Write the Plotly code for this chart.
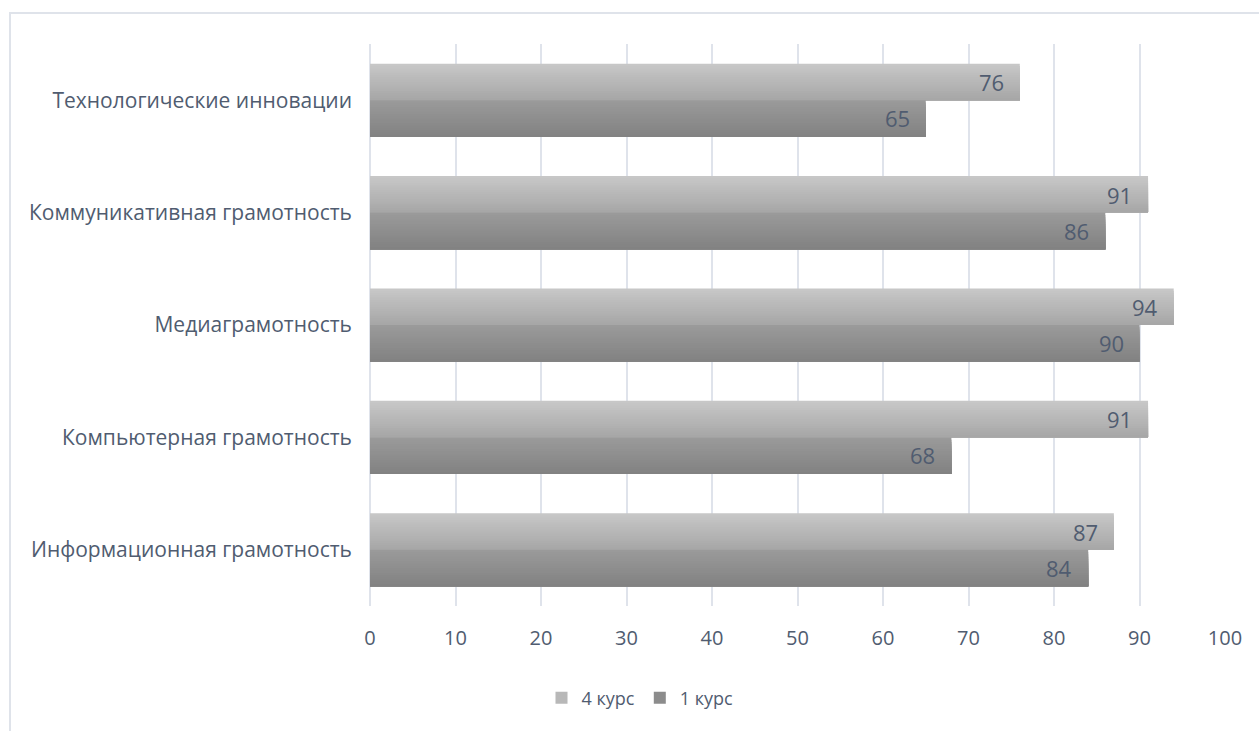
import plotly.graph_objects as go

# Data
categories = [
    "Информационная грамотность",
    "Компьютерная грамотность",
    "Медиаграмотность",
    "Коммуникативная грамотность",
    "Технологические инновации",
]
series_names = ["4 курс", "1 курс"]
course4 = [87, 91, 94, 91, 76]
course1 = [84, 68, 90, 86, 65]
x_ticks = [0, 10, 20, 30, 40, 50, 60, 70, 80, 90, 100]

TEXT = "#505c70"
FONT = "Open Sans"
BAR_W = 0.325
N_STRIPS = 16

# vertical gradient per series: (top colour, bottom colour)
gradients = {
    "4 курс": ((0xC7, 0xC7, 0xC7), (0xA7, 0xA7, 0xA7)),
    "1 курс": ((0x9A, 0x9A, 0x9A), (0x82, 0x82, 0x82)),
}
legend_colours = {"4 курс": "#b8b8b8", "1 курс": "#8c8c8c"}


def mix(c0, c1, t):
    return "rgb(%d,%d,%d)" % tuple(round(a + (b - a) * t) for a, b in zip(c0, c1))


fig = go.Figure()

for name, values, base in [("4 курс", course4, 0.0), ("1 курс", course1, -BAR_W)]:
    top, bottom = gradients[name]
    sw = BAR_W / N_STRIPS
    # legend entry (zero-width bar carrying the series colour)
    fig.add_trace(go.Bar(
        y=categories, x=values, orientation="h", name=name,
        marker=dict(color=legend_colours[name], line=dict(width=0)),
        width=0.0001, offset=base, legendgroup=name, hoverinfo="skip",
    ))
    # gradient: each layer runs from the bar's bottom edge up to a
    # progressively lower top edge, darker layers painted over lighter ones
    for k in range(N_STRIPS):
        t = k / (N_STRIPS - 1)
        fig.add_trace(go.Bar(
            y=categories, x=values, orientation="h", name=name,
            marker=dict(color=mix(top, bottom, t), line=dict(width=0)),
            width=BAR_W - k * sw, offset=base,
            legendgroup=name, showlegend=False,
            hovertemplate="%{y}: %{x}<extra>" + name + "</extra>",
        ))

# value labels at the inner end of each bar
for values, shift in [(course4, 18), (course1, -18)]:
    for cat, v in zip(categories, values):
        fig.add_annotation(
            x=v, y=cat, text=str(v), showarrow=False,
            xanchor="right", yanchor="middle", xshift=-14, yshift=shift,
            font=dict(family=FONT, size=22, color=TEXT),
        )

# outer chart frame
fig.add_shape(
    type="rect", xref="paper", yref="paper",
    x0=(10 - 370) / 855, x1=(1275 - 370) / 855,
    y0=(606 - 745) / 562, y1=(606 - 13) / 562,
    line=dict(color="#dfe3ea", width=2), layer="below",
)

fig.update_layout(
    width=1259, height=731,
    margin=dict(l=370, r=34, t=44, b=125),
    paper_bgcolor="white", plot_bgcolor="white",
    barmode="overlay",
    font=dict(family=FONT, size=19, color=TEXT),
    showlegend=True,
    legend=dict(
        orientation="h", xanchor="center", yanchor="middle",
        x=(640 - 370) / 855, y=(606 - 698) / 562,
        font=dict(family=FONT, size=18, color=TEXT),
        itemwidth=30, traceorder="normal",
    ),
    xaxis=dict(
        range=[0, 100], tickvals=x_ticks, showgrid=True,
        gridcolor="#dfe3eb", gridwidth=2,
        zeroline=True, zerolinecolor="#dfe3eb", zerolinewidth=2,
        showline=False, ticks="", ticklabelstandoff=18,
        tickfont=dict(family=FONT, size=20, color=TEXT),
    ),
    yaxis=dict(
        type="category", categoryorder="array", categoryarray=categories,
        range=[-0.5, 4.5], showgrid=False, zeroline=False, showline=False,
        ticks="", ticklabelstandoff=17,
        tickfont=dict(family=FONT, size=21, color=TEXT),
    ),
)

fig.write_html("out.html")
